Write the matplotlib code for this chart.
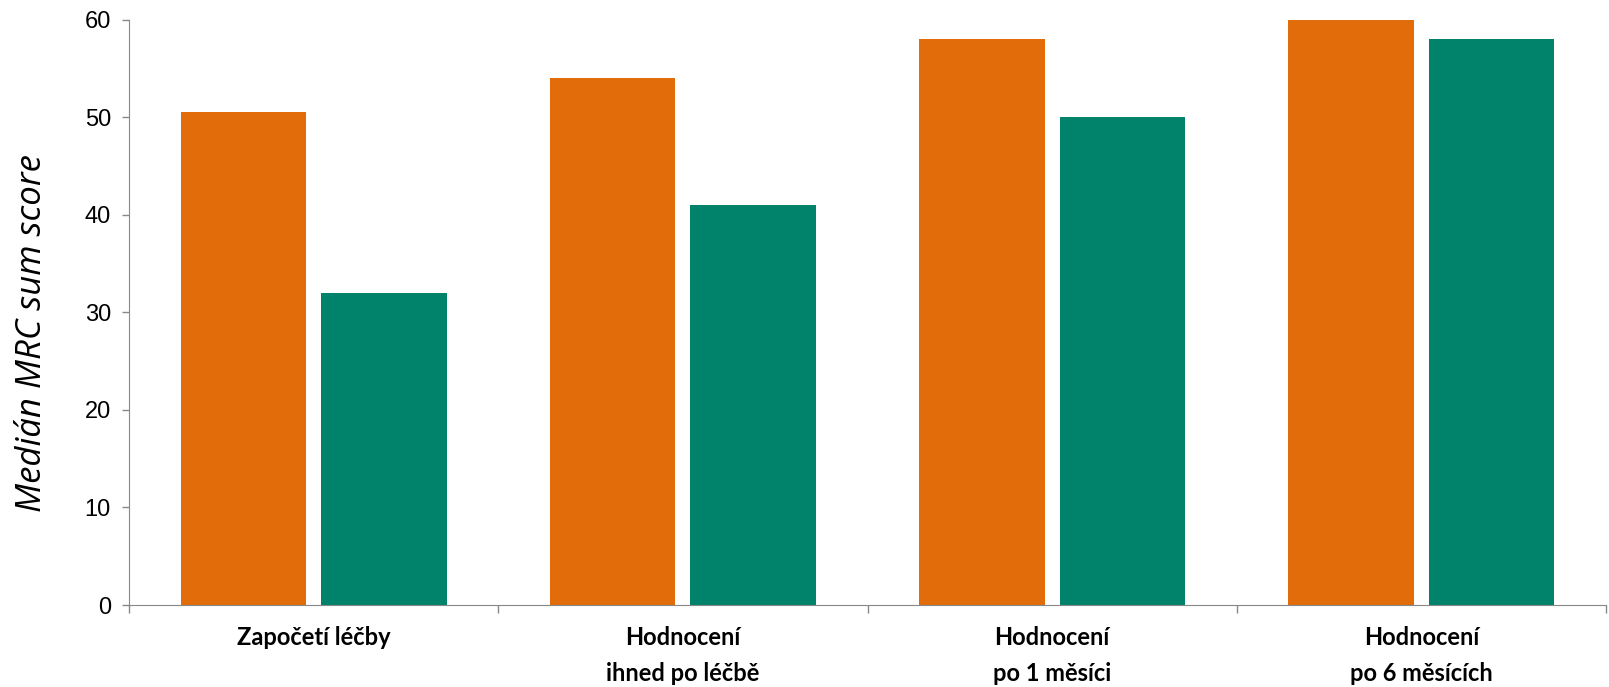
import numpy as np
import matplotlib
matplotlib.use("Agg")
import matplotlib.pyplot as plt

categories = ["Započetí léčby", "Hodnocení\nihned po léčbě", "Hodnocení\npo 1 měsíci", "Hodnocení\npo 6 měsících"]
orange_vals = [50.5, 54, 58, 60]
teal_vals = [32, 41, 50, 58]
yticks = [0, 10, 20, 30, 40, 50, 60]

fig = plt.figure(figsize=(16.09, 6.87), dpi=100)
ax = fig.add_axes([129/1609, 1 - 605/687, (1606-129)/1609, (605-19.5)/687])

x = np.arange(len(categories))
w = 0.34
ax.bar(x - 0.19, orange_vals, w, color="#E36C0A")
ax.bar(x + 0.19, teal_vals, w, color="#00826B")

ax.set_xlim(-0.5, len(categories) - 0.5)
ax.set_ylim(0, 60)
ax.set_yticks(yticks)
ax.tick_params(axis="y", labelsize=17, length=5, width=1, color="#888888", pad=8)
for lab in ax.get_yticklabels():
    lab.set_family("Liberation Sans")

ax.set_xticks(np.arange(len(categories) + 1) - 0.5)
ax.set_xticklabels([])
ax.tick_params(axis="x", which="major", length=6, width=1, color="#888888")
ax.set_xticks(x, minor=True)
ax.set_xticklabels(categories, minor=True, fontsize=17, fontweight="bold",
                   family="Lato", linespacing=1.7, va="top")
ax.tick_params(axis="x", which="minor", length=0, pad=15)

for s in ["top", "right"]:
    ax.spines[s].set_visible(False)
ax.spines["left"].set_color("#888888")
ax.spines["bottom"].set_color("#888888")

ax.set_ylabel("Medián MRC sum score", fontsize=25, style="italic", family="Open Sans")
ax.yaxis.set_label_coords(-0.054, 0.465)

fig.savefig("out.png", dpi=100)
